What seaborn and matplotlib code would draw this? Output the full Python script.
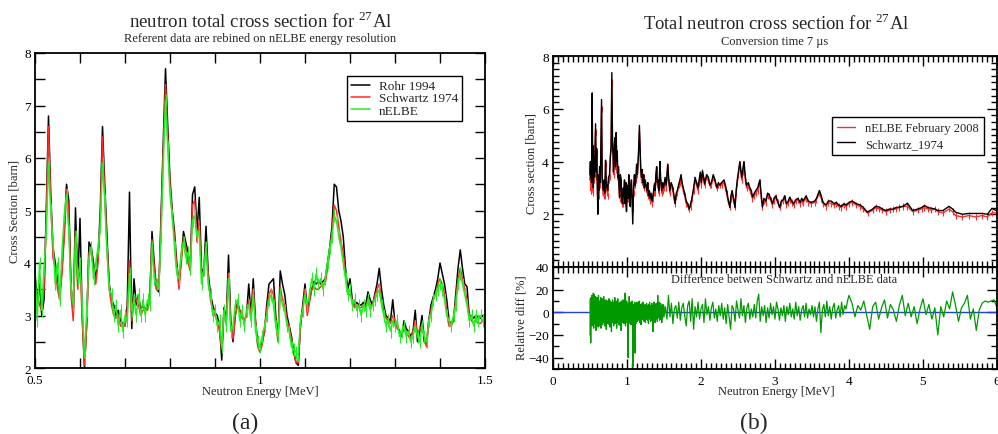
import numpy as np
import matplotlib
matplotlib.use("Agg")
import matplotlib.pyplot as plt
from matplotlib.ticker import MultipleLocator, FixedLocator, FormatStrFormatter
import seaborn as sns

# ---------------- data: panel (a), 0.5 - 1.5 MeV, rebinned ----------------
e_a = np.linspace(0.5, 1.5, 201)

rohr_1994 = [
    3.8, 3.3, 3.6, 3.0, 3.3, 5.0, 6.8, 5.3, 4.3, 4.0,
    3.7, 3.4, 3.9, 4.6, 5.5, 5.2, 3.6, 3.0, 5.05, 3.6,
    4.85, 3.0, 2.0, 2.9, 4.4, 4.3, 4.0, 3.7, 4.1, 5.0,
    6.6, 5.5, 4.5, 3.6, 3.3, 3.2, 3.0, 3.1, 2.9, 2.85,
    2.8, 3.2, 5.35, 2.75, 3.7, 3.2, 3.4, 3.1, 3.2, 3.1,
    3.2, 3.3, 4.6, 4.0, 3.5, 3.45, 4.9, 6.3, 7.7, 6.6,
    5.6, 5.0, 4.6, 4.0, 3.6, 4.1, 4.6, 4.4, 4.2, 3.9,
    5.3, 5.45, 4.6, 5.25, 3.9, 3.8, 4.7, 3.8, 3.4, 3.2,
    3.05, 3.0, 2.8, 2.15, 3.15, 2.9, 4.15, 2.9, 2.5, 3.0,
    3.25, 3.1, 3.0, 2.9, 3.0, 3.6, 3.0, 3.7, 2.9, 2.45,
    2.4, 2.5, 2.7, 3.2, 3.6, 3.65, 3.7, 3.0, 2.55, 3.85,
    3.6, 3.4, 3.0, 2.8, 2.6, 2.3, 2.1, 2.05, 2.8, 3.2,
    3.6, 3.1, 3.3, 3.5, 3.65, 3.6, 3.65, 3.6, 3.65, 3.7,
    4.0, 4.3, 4.7, 5.5, 5.45, 5.0, 4.8, 4.5, 3.9, 3.5,
    3.7, 3.3, 3.2, 3.25, 3.2, 3.2, 3.25, 3.2, 3.45, 3.3,
    3.2, 3.4, 3.6, 3.9, 3.5, 3.2, 3.0, 2.95, 2.9, 3.3,
    2.85, 2.8, 2.7, 2.6, 2.9, 2.75, 2.7, 2.6, 2.7, 3.1,
    2.5, 2.7, 3.0, 2.5, 2.45, 2.9, 3.2, 3.35, 3.5, 3.7,
    4.0, 3.8, 3.6, 3.3, 2.9, 2.85, 2.9, 3.4, 3.9, 4.25,
    3.9, 3.6, 3.55, 3.0, 3.0, 2.95, 3.0, 2.95, 2.95, 3.0,
    3.0,
]

schwartz_1974_a = [
    3.5, 3.4, 3.2, 3.1, 3.5, 4.8, 6.6, 5.2, 4.1, 3.9,
    3.5, 3.3, 3.8, 4.5, 5.4, 5.0, 3.4, 2.9, 4.6, 3.5,
    4.0, 2.9, 2.05, 2.8, 4.2, 4.2, 3.9, 3.6, 4.0, 4.8,
    6.4, 5.3, 4.3, 3.5, 3.2, 3.0, 2.95, 3.0, 2.8, 2.8,
    2.8, 3.1, 4.05, 2.9, 3.4, 3.3, 3.2, 3.0, 3.1, 3.1,
    3.1, 3.3, 4.45, 3.9, 3.5, 3.5, 4.7, 6.1, 7.4, 6.4,
    5.5, 4.9, 4.5, 3.9, 3.5, 4.0, 4.5, 4.3, 4.0, 3.85,
    5.1, 5.2, 4.4, 4.8, 3.8, 3.75, 4.4, 3.7, 3.3, 3.1,
    3.0, 2.9, 2.7, 2.35, 3.1, 2.85, 3.8, 2.85, 2.55, 3.0,
    3.2, 3.1, 2.95, 2.9, 3.0, 3.3, 3.0, 3.5, 2.9, 2.4,
    2.3, 2.45, 2.7, 3.1, 3.4, 3.5, 3.4, 2.9, 2.5, 3.55,
    3.3, 3.2, 2.9, 2.75, 2.55, 2.3, 2.1, 2.1, 2.85, 3.1,
    3.5, 3.0, 3.25, 3.5, 3.55, 3.5, 3.5, 3.55, 3.6, 3.6,
    3.9, 4.2, 4.6, 5.1, 5.0, 4.7, 4.4, 4.2, 3.8, 3.4,
    3.4, 3.3, 3.15, 3.2, 3.15, 3.15, 3.2, 3.15, 3.3, 3.2,
    3.2, 3.35, 3.5, 3.6, 3.3, 3.1, 2.95, 2.9, 2.85, 3.0,
    2.9, 2.75, 2.7, 2.6, 2.8, 2.7, 2.6, 2.55, 2.7, 2.9,
    2.65, 2.75, 2.8, 2.6, 2.4, 2.9, 3.1, 3.3, 3.4, 3.6,
    3.7, 3.6, 3.4, 3.1, 2.8, 2.8, 2.9, 3.3, 3.7, 3.9,
    3.7, 3.5, 3.3, 3.0, 2.9, 2.85, 2.9, 2.85, 2.85, 2.9,
    2.9,
]

nelbe_a = [
    3.9, 2.9, 4.0, 3.1, 3.9, 4.6, 5.9, 5.0, 4.4, 3.6,
    4.0, 3.3, 4.2, 4.9, 5.3, 4.6, 3.5, 3.2, 4.5, 3.7,
    4.0, 3.2, 2.2, 3.1, 4.1, 4.3, 3.7, 4.0, 4.3, 4.7,
    5.9, 5.2, 4.2, 3.5, 3.4, 3.0, 3.2, 2.8, 3.1, 2.7,
    3.0, 2.9, 3.8, 3.1, 3.3, 3.0, 3.4, 3.0, 3.3, 3.0,
    3.3, 3.2, 4.3, 3.7, 3.6, 3.5, 4.5, 5.9, 7.1, 6.2,
    5.3, 4.9, 4.3, 3.8, 3.7, 4.2, 4.4, 4.1, 4.2, 3.9,
    4.8, 4.9, 4.5, 4.6, 3.6, 3.9, 4.3, 3.6, 3.4, 3.0,
    3.1, 2.8, 2.9, 2.4, 3.1, 2.8, 3.7, 2.7, 2.8, 3.2,
    3.3, 2.9, 3.1, 2.8, 3.1, 3.2, 2.9, 3.4, 2.7, 2.5,
    2.4, 2.6, 2.8, 3.0, 3.3, 3.4, 3.2, 2.8, 2.6, 3.4,
    3.2, 3.1, 2.8, 2.7, 2.4, 2.35, 2.3, 2.25, 2.9, 3.1,
    3.4, 3.2, 3.4, 3.7, 3.5, 3.8, 3.6, 3.7, 3.5, 3.7,
    4.0, 4.3, 4.5, 4.9, 4.8, 4.5, 4.3, 4.0, 3.7, 3.4,
    3.5, 3.2, 3.3, 3.1, 3.2, 3.0, 3.2, 3.1, 3.3, 3.1,
    3.2, 3.3, 3.4, 3.5, 3.2, 3.0, 2.8, 2.9, 2.7, 2.9,
    2.8, 2.9, 2.6, 2.7, 2.8, 2.6, 2.7, 2.5, 2.6, 2.8,
    2.6, 2.5, 2.8, 2.6, 2.5, 2.9, 3.0, 3.3, 3.4, 3.5,
    3.6, 3.5, 3.3, 3.0, 2.9, 2.8, 3.0, 3.2, 3.6, 3.8,
    3.6, 3.4, 3.2, 2.9, 3.0, 2.8, 3.0, 2.9, 3.0, 2.9,
    3.0,
]
nelbe_a_err = 0.12

# ---------------- data: panel (b), 0.5 - 6 MeV ----------------
e_b = [
    0.50, 0.505, 0.51, 0.515, 0.52, 0.53, 0.535, 0.54, 0.545, 0.55,
    0.56, 0.575, 0.585, 0.59, 0.60, 0.606, 0.615, 0.62, 0.63, 0.64,
    0.656, 0.665, 0.675, 0.683, 0.69, 0.70, 0.71, 0.72, 0.73, 0.74,
    0.75, 0.764, 0.775, 0.785, 0.795, 0.805, 0.812, 0.818, 0.826, 0.836,
    0.845, 0.854, 0.862, 0.868, 0.876, 0.885, 0.893, 0.90, 0.91, 0.92,
    0.93, 0.943, 0.95, 0.958, 0.966, 0.975, 0.985, 0.993, 1.00, 1.008,
    1.016, 1.024, 1.032, 1.042, 1.05, 1.06, 1.068, 1.078, 1.088, 1.10,
    1.11, 1.12, 1.13, 1.14, 1.155, 1.168, 1.178, 1.186, 1.195, 1.205,
    1.215, 1.225, 1.235, 1.245, 1.258, 1.27, 1.28, 1.29, 1.303, 1.315,
    1.325, 1.34, 1.35, 1.36, 1.37, 1.38, 1.39, 1.40, 1.41, 1.42,
    1.43, 1.438, 1.446, 1.455, 1.463, 1.47, 1.48, 1.49, 1.50, 1.515,
    1.53, 1.54, 1.55, 1.565, 1.58, 1.595, 1.61, 1.62, 1.635, 1.65,
    1.665, 1.68, 1.70, 1.715, 1.73, 1.745, 1.76, 1.78, 1.80, 1.82,
    1.84, 1.86, 1.88, 1.90, 1.92, 1.94, 1.96, 1.975, 1.99, 2.005,
    2.02, 2.035, 2.05, 2.075, 2.10, 2.12, 2.14, 2.165, 2.19, 2.215,
    2.235, 2.255, 2.28, 2.31, 2.33, 2.345, 2.365, 2.39, 2.405, 2.42,
    2.44, 2.46, 2.475, 2.49, 2.505, 2.525, 2.55, 2.565, 2.58, 2.60,
    2.615, 2.64, 2.66, 2.68, 2.695, 2.72, 2.74, 2.765, 2.795, 2.815,
    2.83, 2.85, 2.875, 2.90, 2.92, 2.94, 2.965, 2.985, 3.01, 3.035,
    3.063, 3.085, 3.11, 3.13, 3.155, 3.18, 3.20, 3.225, 3.25, 3.28,
    3.31, 3.34, 3.36, 3.38, 3.42, 3.45, 3.49, 3.535, 3.56, 3.60,
    3.625, 3.65, 3.69, 3.72, 3.76, 3.80, 3.83, 3.86, 3.895, 3.93,
    3.96, 4.00, 4.04, 4.10, 4.15, 4.19, 4.25, 4.32, 4.36, 4.41,
    4.45, 4.50, 4.55, 4.59, 4.63, 4.68, 4.73, 4.79, 4.86, 4.93,
    4.98, 5.02, 5.07, 5.11, 5.16, 5.20, 5.27, 5.35, 5.40, 5.44,
    5.53, 5.62, 5.71, 5.80, 5.87, 5.93, 5.99,
]

schwartz_1974_b = [
    3.5, 4.0, 3.4, 3.9, 3.2, 6.6, 3.8, 4.6, 3.0, 4.2,
    3.4, 5.43, 3.6, 4.5, 2.9, 2.0, 3.5, 2.9, 3.8, 3.2,
    6.35, 3.4, 3.0, 2.9, 3.3, 2.8, 4.05, 3.2, 3.0, 2.9,
    3.4, 3.5, 4.2, 4.6, 7.37, 4.5, 4.3, 3.6, 4.6, 4.9,
    3.8, 5.1, 4.0, 4.4, 3.4, 3.8, 3.0, 2.65, 3.5, 3.35,
    2.5, 2.4, 3.0, 2.7, 3.3, 2.4, 3.2, 2.1, 2.65, 3.1,
    2.6, 3.5, 2.9, 2.3, 3.0, 3.3, 2.5, 1.63, 2.9, 3.5,
    3.1, 3.4, 3.9, 3.5, 4.3, 5.37, 4.5, 3.7, 3.4, 3.7,
    3.2, 3.5, 3.0, 3.3, 3.1, 2.9, 3.2, 2.7, 2.9, 2.6,
    2.8, 2.5, 2.7, 2.9, 3.15, 2.9, 3.5, 3.8, 3.2, 3.3,
    2.9, 3.4, 4.0, 3.3, 3.1, 2.9, 3.2, 3.0, 3.1, 3.4,
    3.1, 3.5, 3.9, 3.3, 2.9, 3.2, 3.1, 3.0, 2.7, 2.4,
    2.8, 2.9, 3.15, 3.3, 3.5, 3.2, 3.0, 2.8, 2.5, 2.4,
    2.2, 2.4, 2.65, 3.0, 3.4, 3.2, 3.0, 3.3, 3.6, 3.2,
    3.65, 3.4, 3.15, 3.5, 3.4, 3.1, 3.2, 3.5, 3.3, 3.0,
    3.2, 3.1, 3.2, 3.3, 3.1, 2.9, 2.6, 2.25, 2.7, 2.9,
    2.6, 2.25, 2.9, 3.3, 3.6, 4.0, 3.4, 3.7, 4.0, 3.4,
    3.1, 3.2, 3.0, 2.9, 2.65, 2.8, 2.9, 3.0, 3.3, 2.7,
    2.27, 2.6, 2.5, 2.8, 2.75, 2.6, 2.4, 2.6, 2.7, 2.5,
    2.25, 2.5, 2.55, 2.7, 2.4, 2.5, 2.65, 2.5, 2.4, 2.55,
    2.6, 2.45, 2.6, 2.5, 2.7, 2.5, 2.45, 2.5, 2.6, 2.9,
    2.7, 2.45, 2.35, 2.5, 2.5, 2.4, 2.45, 2.35, 2.3, 2.4,
    2.35, 2.45, 2.5, 2.4, 2.35, 2.27, 2.08, 2.2, 2.3, 2.27,
    2.2, 2.14, 2.2, 2.18, 2.25, 2.27, 2.3, 2.42, 2.14, 2.2,
    2.25, 2.33, 2.25, 2.23, 2.2, 2.14, 2.14, 2.3, 2.2, 2.08,
    2.0, 2.03, 2.03, 2.03, 2.0, 2.22, 2.14,
]

nelbe_feb_2008 = [
    3.3, 3.8, 2.9, 3.7, 2.9, 6.2, 3.6, 4.4, 2.8, 4.0,
    3.3, 5.1, 3.4, 4.3, 2.9, 2.3, 3.4, 2.7, 3.7, 3.1,
    6.0, 3.3, 2.8, 2.7, 3.2, 2.7, 3.9, 3.0, 2.9, 2.7,
    3.3, 3.4, 4.1, 4.5, 7.0, 4.4, 4.2, 3.5, 4.4, 4.7,
    3.7, 4.9, 3.9, 4.2, 3.3, 3.7, 2.9, 2.6, 3.3, 3.2,
    2.4, 2.4, 2.9, 2.6, 3.2, 2.4, 3.1, 2.3, 2.6, 3.0,
    2.6, 3.3, 2.8, 2.4, 2.9, 3.2, 2.6, 2.2, 2.8, 3.4,
    3.1, 3.3, 3.7, 3.5, 4.2, 5.1, 4.4, 3.6, 3.3, 3.6,
    3.1, 3.4, 3.0, 3.2, 3.0, 2.8, 3.1, 2.7, 2.8, 2.5,
    2.7, 2.4, 2.6, 2.8, 3.1, 2.8, 3.4, 3.7, 3.1, 3.2,
    2.8, 3.3, 3.9, 3.2, 3.0, 2.8, 3.1, 2.9, 3.0, 3.3,
    3.0, 3.4, 3.8, 3.2, 2.8, 3.1, 3.0, 2.9, 2.6, 2.4,
    2.7, 2.8, 3.1, 3.2, 3.4, 3.1, 2.9, 2.7, 2.4, 2.3,
    2.2, 2.3, 2.6, 2.9, 3.3, 3.1, 2.9, 3.2, 3.5, 3.1,
    3.6, 3.3, 3.1, 3.4, 3.3, 3.1, 3.1, 3.4, 3.2, 3.0,
    3.1, 3.1, 3.1, 3.2, 3.0, 2.8, 2.5, 2.3, 2.6, 2.8,
    2.5, 2.3, 2.8, 3.2, 3.5, 3.9, 3.3, 3.6, 3.9, 3.3,
    3.0, 3.1, 2.9, 2.8, 2.6, 2.7, 2.8, 2.9, 3.2, 2.6,
    2.3, 2.5, 2.45, 2.7, 2.7, 2.55, 2.35, 2.5, 2.65, 2.45,
    2.3, 2.45, 2.5, 2.6, 2.35, 2.45, 2.55, 2.45, 2.35, 2.5,
    2.55, 2.4, 2.5, 2.45, 2.6, 2.45, 2.4, 2.45, 2.55, 2.8,
    2.6, 2.4, 2.3, 2.45, 2.4, 2.35, 2.4, 2.3, 2.25, 2.35,
    2.3, 2.4, 2.45, 2.35, 2.3, 2.2, 2.05, 2.15, 2.25, 2.2,
    2.15, 2.1, 2.15, 2.2, 2.2, 2.25, 2.3, 2.3, 2.1, 2.15,
    2.2, 2.25, 2.2, 2.15, 2.2, 2.1, 2.05, 2.2, 2.1, 1.95,
    1.9, 1.95, 1.9, 1.95, 1.9, 2.05, 2.05,
]
nelbe_feb_2008_err = 0.12

# relative difference [%], three energy segments with coarser binning
e_diff = np.concatenate([np.linspace(0.5, 1.5, 201),
                         np.linspace(1.52, 4.0, 125),
                         np.linspace(4.04, 6.0, 50)])
rel_diff = [
    # 0.500 - 1.500, step 0.005
    -20, 12, -27, 13, -8, 15, -12, 10, -5, 17,
    -14, 16, -10, 12, -6, 14, -16, 9, -11, 13,
    -8, 11, -13, 15, -4, 10, -12, 8, -9, 13,
    -14, 9, -7, 12, -11, 6, -9, 14, -5, 10,
    -12, 8, -6, 11, -15, 9, -4, 10, -10, 7,
    -8, 12, -11, 6, -13, 10, -7, 9, -17, 8,
    -6, 11, -9, 7, -12, 9, -5, 13, -10, 6,
    -8, 10, -14, 7, -6, 12, -9, 5, -11, 8,
    -7, 9, -12, 6, -16, 10, -5, 8, -9, 11,
    -6, 7, -10, 9, -8, 17, -12, 6, -7, 10,
    -9, 8, -5, -40, 7, -10, 14, -6, 9, -8,
    6, -11, 8, -5, 10, -12, -48, 7, -30, 6,
    -8, 9, -36, 7, -10, 5, -6, 9, -8, 4,
    -7, 8, -5, 10, -9, 6, -4, 7, -11, 5,
    -6, 8, -3, 9, -7, 5, -8, 6, -4, 7,
    -9, 5, -6, 8, -3, 6, -7, 4, -10, 7,
    -5, 9, -6, 3, -8, 6, -4, 8, -7, 5,
    -17, 6, -5, 9, -4, 7, -9, 5, -6, 8,
    -3, 6, -8, 15, -5, 7, -4, 9, -7, 5,
    -6, 8, -3, 6, -9, 4, -5, 7, -2, 6,
    -4,
    # 1.52 - 4.00, step 0.02
    5, -6, 15, -4, 8, -10, 3, 6, -5, 9,
    -7, 4, 8, -3, -12, 6, 10, -8, 12, -15,
    5, -4, 9, -6, 3, 7, -9, 12, -2, 5,
    -7, 4, 9, -5, 3, -8, 6, -3, 8, -6,
    4, -10, 7, -4, -15, 6, 3, -8, 10, 2,
    -5, 12, -3, 6, -9, 4, 8, -6, 3, -4,
    7, -5, 10, 16, -8, 5, -3, 6, -9, 4,
    -5, 8, -2, 5, -6, 9, 3, -7, 4, -3,
    6, -8, 5, -2, 8, -4, 3, -6, 9, -3,
    5, -7, 2, 6, -4, 8, -5, 3, -2, 6,
    -4, 5, -8, 3, 9, -18, 2, 7, -4, 10,
    -3, 5, -6, 4, 8, -5, 2, 6, -4, 9,
    -2, 6, 3, 10, 15,
    # 4.04 - 6.00, step 0.04
    8, -4, 6, 2, 10, -3, -15, 5, 9, -6,
    4, 11, -5, 7, 2, -8, 6, 15, -3, 8,
    -4, 5, -10, 3, 12, -2, 7, -6, 4, -20,
    5, -4, 10, 3, 18, 6, -8, 4, 8, 15,
    -6, 3, -16, 2, 8, 10, 9, 10, 11, 4,
]

# ---------------- style ----------------
sns.set_theme(style="ticks")
plt.rcParams["font.family"] = ["Liberation Serif", "DejaVu Serif"]
plt.rcParams["mathtext.fontset"] = "custom"
plt.rcParams["mathtext.rm"] = "Liberation Serif"
plt.rcParams["axes.linewidth"] = 1.3
plt.rcParams["axes.edgecolor"] = "black"

RED = "#ff2a2a"
GREEN = "#22ee22"
DGREEN = "#009a00"
TICK_FS = 9.5
LABEL_FS = 9.0


def style_ticks(ax, major_len=6, minor_len=6):
    ax.tick_params(which="both", direction="in", top=True, right=True,
                   colors="black", labelsize=TICK_FS, width=1.0)
    ax.tick_params(which="major", length=major_len, pad=3)
    ax.tick_params(which="minor", length=minor_len)


fig = plt.figure(figsize=(9.98, 4.35), dpi=100)

# ---------------- panel (a) ----------------
ax_a = fig.add_axes([35 / 998, 1 - 369 / 435, 450 / 998, 315 / 435])
sns.lineplot(x=e_a, y=rohr_1994, ax=ax_a, color="black", lw=1.1,
             estimator=None, sort=False, label="Rohr 1994")
sns.lineplot(x=e_a, y=schwartz_1974_a, ax=ax_a, color=RED, lw=1.1,
             estimator=None, sort=False, label="Schwartz 1974")
ax_a.errorbar(e_a, nelbe_a, yerr=nelbe_a_err, fmt="none",
              ecolor=GREEN, elinewidth=0.8)
sns.lineplot(x=e_a, y=nelbe_a, ax=ax_a, color=GREEN, lw=1.1,
             estimator=None, sort=False, label="nELBE")
ax_a.set_xlim(0.5, 1.5)
ax_a.set_ylim(2, 8)
ax_a.xaxis.set_major_locator(FixedLocator([0.5, 1.0, 1.5]))
ax_a.xaxis.set_minor_locator(MultipleLocator(0.1))
ax_a.yaxis.set_major_locator(MultipleLocator(1))
ax_a.yaxis.set_minor_locator(MultipleLocator(0.5))
ax_a.xaxis.set_major_formatter(FormatStrFormatter("%g"))
ax_a.set_xlabel("")
ax_a.set_ylabel("")
style_ticks(ax_a, 7, 7)
ax_a.tick_params(axis="x", pad=4)
leg = ax_a.legend(loc="upper right", bbox_to_anchor=(0.949, 0.927),
                  fontsize=9.5, frameon=True, fancybox=False,
                  edgecolor="black", framealpha=1, handlelength=1.4,
                  handletextpad=0.7, labelspacing=0.0, borderpad=0.3,
                  borderaxespad=0)
leg.get_frame().set_linewidth(1.0)

fig.text(261 / 998, 1 - 22 / 435, "neutron total cross section for $^{27}$Al",
         ha="center", va="center", fontsize=13.6)
fig.text(260 / 998, 1 - 39 / 435, "Referent data are rebined on nELBE energy resolution",
         ha="center", va="center", fontsize=9.0)
fig.text(15 / 998, 1 - 212 / 435, "Cross Section [barn]", rotation=90,
         ha="center", va="center", fontsize=LABEL_FS)
fig.text(260 / 998, 1 - 392 / 435, "Neutron Energy [MeV]",
         ha="center", va="center", fontsize=LABEL_FS)
fig.text(245 / 998, 1 - 423 / 435, "(a)", ha="center", va="center", fontsize=17)

# ---------------- panel (b) ----------------
ax_b = fig.add_axes([553 / 998, 1 - 268 / 435, 444 / 998, 211 / 435])
ax_c = fig.add_axes([553 / 998, 1 - 370 / 435, 444 / 998, 102 / 435], sharex=ax_b)

ax_b.errorbar(e_b, nelbe_feb_2008, yerr=nelbe_feb_2008_err, fmt="none",
              ecolor=RED, elinewidth=0.8)
sns.lineplot(x=e_b, y=nelbe_feb_2008, ax=ax_b, color=RED, lw=1.0,
             estimator=None, sort=False, label="nELBE February 2008")
sns.lineplot(x=e_b, y=schwartz_1974_b, ax=ax_b, color="black", lw=1.0,
             estimator=None, sort=False, label="Schwartz_1974")
ax_b.set_xlim(0, 6)
ax_b.set_ylim(0, 8)
ax_b.xaxis.set_major_locator(MultipleLocator(1))
ax_b.xaxis.set_minor_locator(MultipleLocator(1 / 15))
ax_b.yaxis.set_major_locator(FixedLocator([2, 4, 6, 8]))
ax_b.yaxis.set_minor_locator(MultipleLocator(0.25))
ax_b.set_xlabel("")
ax_b.set_ylabel("")
style_ticks(ax_b, 7, 4)
ax_b.tick_params(labelbottom=False)
leg_b = ax_b.legend(loc="upper right", bbox_to_anchor=(0.971, 0.711),
                    fontsize=9.0, frameon=True, fancybox=False,
                    edgecolor="black", framealpha=1, handlelength=1.5,
                    handletextpad=0.8, labelspacing=0.3, borderpad=0.4,
                    borderaxespad=0)
leg_b.get_frame().set_linewidth(1.0)

ax_c.axhline(0, color="#2040e0", lw=1.0, zorder=1)
sns.lineplot(x=e_diff, y=rel_diff, ax=ax_c, color=DGREEN, lw=0.9,
             estimator=None, sort=False, zorder=2)
ax_c.set_ylim(-50, 40)
ax_c.yaxis.set_major_locator(MultipleLocator(20))
ax_c.yaxis.set_minor_locator(MultipleLocator(10))
ax_c.xaxis.set_major_formatter(FormatStrFormatter("%g"))
ax_c.set_xlabel("")
ax_c.set_ylabel("")
style_ticks(ax_c, 7, 4)
ax_c.tick_params(axis="x", pad=4)
ax_c.text(0.52, 0.88, "Difference betwen Schwartz and nELBE data",
          transform=ax_c.transAxes, ha="center", va="center", fontsize=8.9)

fig.text(776 / 998, 1 - 24 / 435, "Total neutron cross section for $^{27}$Al",
         ha="center", va="center", fontsize=13.4)
fig.text(775 / 998, 1 - 42 / 435, "Conversion time 7 \u00b5s",
         ha="center", va="center", fontsize=8.9)
fig.text(532 / 998, 1 - 164 / 435, "Cross section [barn]", rotation=90,
         ha="center", va="center", fontsize=LABEL_FS)
fig.text(522 / 998, 1 - 318 / 435, "Relative diff [%]", rotation=90,
         ha="center", va="center", fontsize=LABEL_FS)
fig.text(776 / 998, 1 - 392 / 435, "Neutron Energy [MeV]",
         ha="center", va="center", fontsize=LABEL_FS)
fig.text(754 / 998, 1 - 423 / 435, "(b)", ha="center", va="center", fontsize=17)

fig.savefig("out.png", dpi=100, facecolor="white")
